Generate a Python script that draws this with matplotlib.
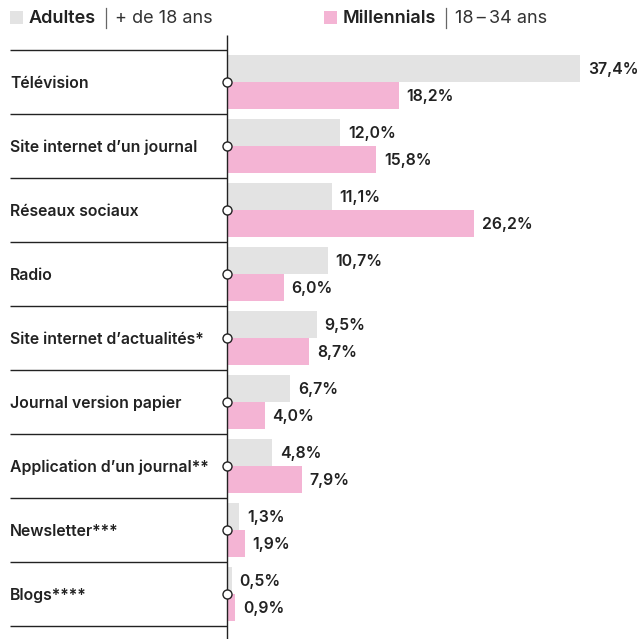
import matplotlib
matplotlib.use("Agg")
import matplotlib.pyplot as plt
from matplotlib.transforms import blended_transform_factory, offset_copy

categories = [
    "Télévision",
    "Site internet d\u2019un journal",
    "Réseaux sociaux",
    "Radio",
    "Site internet d\u2019actualités*",
    "Journal version papier",
    "Application d\u2019un journal**",
    "Newsletter***",
    "Blogs****",
]
adultes = [37.4, 12.0, 11.1, 10.7, 9.5, 6.7, 4.8, 1.3, 0.5]
millennials = [18.2, 15.8, 26.2, 6.0, 8.7, 4.0, 7.9, 1.9, 0.9]

GREY = "#e3e3e3"
PINK = "#f4b4d4"
INK = "#222222"
FONT = ["Inter", "DejaVu Sans"]

W, H = 638, 639
fig = plt.figure(figsize=(W / 100, H / 100), dpi=100)

# axis origin at x=227px, 9.44 px per percent; rows are 64px apart
x0_px = 227
px_per_pct = 9.44
ax = fig.add_axes([x0_px / W, 0, 1 - x0_px / W, 1])
ax.set_xlim(0, (W - x0_px) / px_per_pct)
row_px, first_px = 64, 82
ax.set_ylim((H - first_px) / row_px, (0 - first_px) / row_px)
ax.axis("off")

bh = 0.42
n = len(categories)
for i in range(n):
    ax.barh(i, adultes[i], height=-bh, align="edge", color=GREY, linewidth=0)
    ax.barh(i, millennials[i], height=bh, align="edge", color=PINK, linewidth=0)
    ax.annotate(f"{adultes[i]:.1f}%".replace(".", ","), (adultes[i], i - bh / 2),
                xytext=(5.5, -0.5), textcoords="offset points", va="center", ha="left",
                fontsize=11.4, fontweight="semibold", color=INK, family=FONT)
    ax.annotate(f"{millennials[i]:.1f}%".replace(".", ","), (millennials[i], i + bh / 2),
                xytext=(5.5, -0.5), textcoords="offset points", va="center", ha="left",
                fontsize=11.4, fontweight="semibold", color=INK, family=FONT)

# separators and category labels on the left of the axis
tr = blended_transform_factory(fig.transFigure, ax.transData)
tr_text = offset_copy(tr, fig=fig, x=0, y=-1.5, units="dots")
for i in range(n + 1):
    ax.plot([10 / W, x0_px / W], [i - 0.5, i - 0.5], transform=tr, color=INK,
            lw=1.0, clip_on=False, solid_capstyle="butt")
for i, c in enumerate(categories):
    ax.text(10 / W, i, c, transform=tr_text, va="center", ha="left", fontsize=11.4,
            fontweight="semibold", color=INK, family=FONT)

# vertical axis line and row markers
ax.plot([0, 0], [(35 - first_px) / row_px, (H - first_px) / row_px], color=INK,
        lw=1.0, clip_on=False, solid_capstyle="butt")
ax.plot([0] * n, list(range(n)), ls="none", marker="o", ms=6.5, mfc="white",
        mec=INK, mew=1.0, clip_on=False, zorder=5)

# legend
fig.canvas.draw()
renderer = fig.canvas.get_renderer()


def legend_entry(x_px, color, bold, rest):
    y = 1 - 18.5 / H
    fig.patches.append(plt.Rectangle((x_px / W, 1 - 24 / H), 13 / W, 13 / H,
                                     transform=fig.transFigure, color=color, lw=0))
    t = fig.text((x_px + 19) / W, y, bold, fontsize=13, fontweight="semibold",
                 color=INK, va="center", ha="left", family=FONT)
    bb = t.get_window_extent(renderer)
    fig.lines.append(plt.Line2D([(bb.x1 + 10) / W] * 2, [1 - 8 / H, 1 - 28 / H],
                                transform=fig.transFigure, color="#666666", lw=0.9))
    fig.text((bb.x1 + 19) / W, y, rest, fontsize=13, color="#333333",
             va="center", ha="left", family=FONT)


legend_entry(10, GREY, "Adultes", "+ de 18 ans")
legend_entry(324, PINK, "Millennials", "18\u2009\u2013\u200934 ans")

fig.savefig("out.png", dpi=100)
